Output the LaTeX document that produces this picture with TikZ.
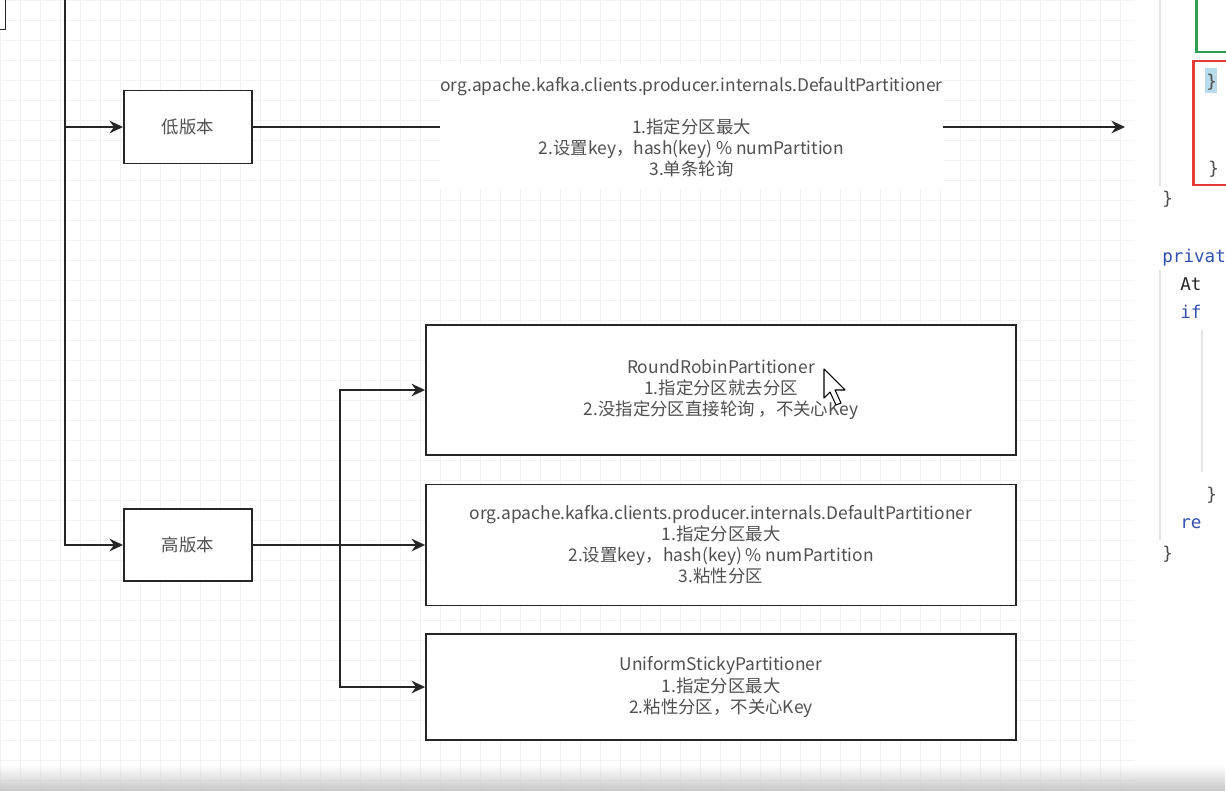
\documentclass[tikz,border=0pt]{standalone}
\usepackage{fontspec}
\setmainfont{Noto Sans CJK SC}
\newfontfamily\codefont{DejaVu Sans Mono}
\usetikzlibrary{arrows.meta,positioning,fadings}
\definecolor{txtgray}{HTML}{505050}
\definecolor{kwblue}{HTML}{3350B0}
\definecolor{codegreen}{HTML}{2E9E4F}
\definecolor{codered}{HTML}{E53935}
\definecolor{bracehl}{HTML}{B8DCEB}

\begin{document}
\begin{tikzpicture}[
  x=0.02cm, y=-0.02cm,
  font=\fontsize{9.9}{12}\selectfont, >={Stealth[length=2.7mm,width=2.5mm]},
  b/.style={draw=black!85, line width=1.1pt, fill=white, align=center,
            text=txtgray, inner sep=2pt},
  ver/.style={b, minimum width=2.56cm, minimum height=1.46cm},
  part/.style={b, minimum width=11.8cm},
  a/.style={->, line width=1.1pt, draw=black!85},
  gridc/.style={draw=black!5, line width=0.4pt},
  guide/.style={draw=black!10, line width=0.6pt},
  code/.style={font=\codefont\fontsize{10}{12}\selectfont, anchor=base west, inner sep=0pt},
]
\useasboundingbox (0,0) rectangle (1226,791);
\fill[white] (0,0) rectangle (1226,791);

% drawing grid behind the flow chart
\foreach \gx in {0,20,...,1120} \draw[gridc] (\gx,0) -- (\gx,791);
\foreach \gy in {0,20,...,780} \draw[gridc] (0,\gy) -- (1135,\gy);

% editor panel on the right
\draw[guide] (1160,0) -- (1160,186);
\draw[guide] (1160,270) -- (1160,540);
\draw[guide] (1202,330) -- (1202,472);
\draw[codegreen, line width=1.7pt] (1196,-10) -- (1196,52) -- (1240,52);
\draw[codered, line width=1.7pt] (1240,61) -- (1193,61) -- (1193,185) -- (1240,185);
\fill[bracehl] (1205,68) rectangle (1217,93);
\node[code, text=black!70] (br1) at (1206,87) {\}};
\node[code, text=black!70] (br2) at (1208,174) {\}};
\node[code, text=black!70] (br3) at (1162,204) {\}};
\node[code, text=kwblue] (kw1) at (1162,262) {privat};
\node[code, text=black!85] (id1) at (1180,290) {At};
\node[code, text=kwblue] (kw2) at (1180,318) {if};
\node[code, text=black!70] (br4) at (1206,500) {\}};
\node[code, text=kwblue] (kw3) at (1180,528) {re};
\node[code, text=black!70] (br5) at (1162,559) {\}};

% previous step (cut off at the top left)
\node[b, minimum width=1.3cm, minimum height=1.38cm] (prev) at (-27,-5) {};
\coordinate (top) at (65,-30);

% low version
\node[ver] (low) at (188,127) {低版本};
\node[fill=white, align=center, text=txtgray, inner xsep=0pt, minimum width=10.06cm,
      minimum height=2.5cm] (lowtxt) at (691.5,127)
  {org.apache.kafka.clients.producer.internals.DefaultPartitioner\\[12pt]
   1.指定分区最大\\
   2.设置key，hash(key) \% numPartition\\
   3.单条轮询};
\coordinate (lowout) at (1125,127);

% high version
\node[ver, minimum height=1.44cm] (high) at (188,545) {高版本};
\node[part, minimum height=2.6cm] (rr) at (721,390)
  {RoundRobinPartitioner\\
   1.指定分区就去分区\\
   2.没指定分区直接轮询 ，不关心Key};
\node[part, minimum height=2.42cm] (def) at (721,545)
  {org.apache.kafka.clients.producer.internals.DefaultPartitioner\\
   1.指定分区最大\\
   2.设置key，hash(key) \% numPartition\\
   3.粘性分区};
\node[part, minimum height=2.12cm] (uni) at (721,687)
  {UniformStickyPartitioner\\
   1.指定分区最大\\
   2.粘性分区，不关心Key};
\coordinate (split) at (340,545);

\draw[a] (top) |- (high.west);
\draw[a] (top |- low.west) -- (low.west);
\draw[line width=1.1pt, draw=black!85] (low) -- (lowtxt);
\draw[a] (lowtxt) -- (lowout);
\draw[a] (high) -- (def);
\draw[a] (split) |- (rr.west);
\draw[a] (split) |- (uni.west);

% mouse pointer
\draw[black, fill=white, line width=0.6pt, line join=round]
  (824,369) -- (824,398) -- (830,392) -- (836,405) -- (841,403)
  -- (835,390) -- (845,390) -- cycle;

% shade at the bottom edge
\fill[black!22, path fading=north] (0,765) rectangle (1226,791);
\end{tikzpicture}
\end{document}
